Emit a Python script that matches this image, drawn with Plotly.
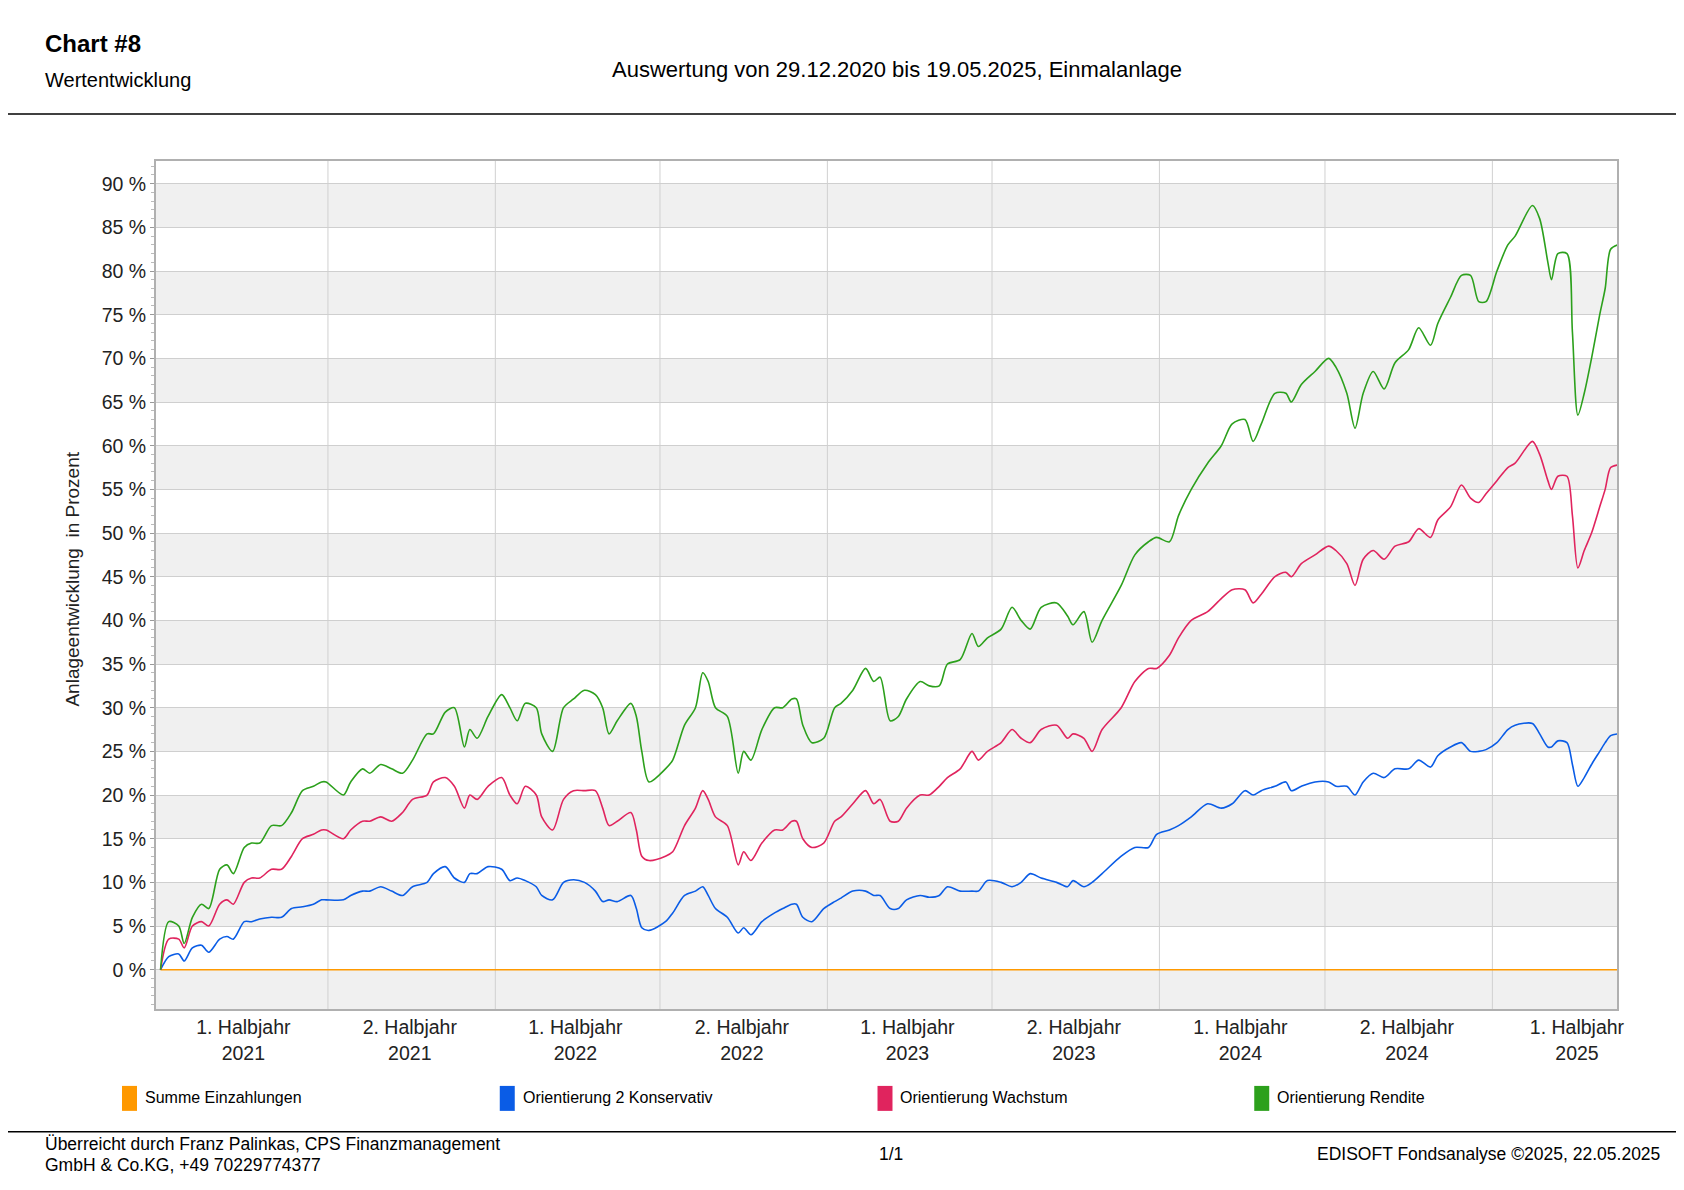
import plotly.graph_objects as go
import pandas as pd

start = pd.Timestamp("2020-12-29")
day_offsets = [0,9,20,26,35,45,53,65,73,80,92,100,109,122,133,144,156,168,177,182,201,209,222,230,242,254,266,277,293,300,313,323,334,340,348,360,375,384,392,401,413,419,431,443,454,466,478,486,493,502,517,523,529,537,555,563,576,588,596,602,610,623,635,641,649,661,675,684,694,699,706,716,729,741,748,761,775,784,791,802,811,820,835,845,856,865,879,892,899,909,924,936,946,956,968,985,997,1003,1015,1024,1035,1056,1071,1086,1095,1109,1119,1133,1151,1166,1178,1192,1201,1210,1225,1237,1243,1254,1269,1284,1292,1304,1313,1322,1333,1345,1357,1372,1383,1396,1404,1418,1430,1440,1449,1457,1469,1481,1489,1508,1516,1525,1529,1536,1546,1552,1558,1565,1573,1582,1588,1594,1602]

rendite = [0,5.5,5,3,6,7.5,7,11.5,12,11,14,14.5,14.5,16.5,16.5,18,20.5,21,21.5,21.5,20,21.5,23,22.5,23.5,23,22.5,24,27,27,29.5,30,25.5,27.5,26.5,29,31.5,30,28.5,30.5,30,27,25,30,31,32,31.5,30,27,28.5,30.5,29,25,21.5,23,24,28,30,34,33,30,29,22.5,25,24,27.5,30,30,31,31,28,26,26.5,30,30.5,32,34.5,33,33.5,28.5,29,31,33,32.5,32.5,35,35.5,38.5,37,38,39,41.5,40,39,41.5,42,40.5,39.5,41,37.5,40,44,47.5,49,49.5,49,52,55,58,60,62.5,63,60.5,62.5,66,66,65,67,68.5,70,69,66,62,66,68.5,66.5,69.5,71,73.5,71.5,74,77,79.5,79.5,76.5,76.5,80,83,84,87.5,86,81,79,82,82,73,63.5,66,70,75,78,82.5,83]

wachstum = [0,3.5,3.5,2.5,5,5.5,5,7.5,8,7.5,10,10.5,10.5,11.5,11.5,13,15,15.5,16,16,15,16,17,17,17.5,17,18,19.5,20,21.5,22,21,18.5,20,19.5,21,22,20,19,21,20,17.5,16,19.5,20.5,20.5,20.5,18.5,16.5,17,18,16,13,12.5,13,13.5,16.5,18.5,20.5,19.5,17.5,16.5,12,13.5,12.5,14.5,16,16,17,17,15,14,14.5,17,17.5,19,20.5,19,19.5,17,17,18.5,20,20,21,22,23,25,24,25,26,27.5,26.5,26,27.5,28,26.5,27,26.5,25,27.5,30,33,34.5,34.5,36,38,40,41,42.5,43.5,43.5,42,43,45,45.5,45,46.5,47.5,48.5,48,46.5,44,47,48,47,48.5,49,50.5,49.5,51.5,53,55.5,54,53.5,54.5,56,57.5,58,60.5,59,56,55,56.5,56.5,52,46,48,50,53,55,57.5,57.8]

konservativ = [0,1.5,1.8,1,2.5,2.8,2,3.5,3.8,3.5,5.5,5.5,5.8,6,6,7,7.2,7.5,8,8,8,8.5,9,9,9.5,9,8.5,9.5,10,11,11.8,10.5,10,11,11,11.8,11.5,10.2,10.5,10.2,9.5,8.5,8,10,10.3,10,9,7.8,8,7.8,8.5,7,4.8,4.5,5.5,6.5,8.5,9,9.5,8.5,7,6,4.2,4.8,4,5.5,6.5,7,7.5,7.5,6,5.5,7,7.8,8.2,9,9,8.5,8.5,7,7,8,8.5,8.3,8.5,9.5,9,9,9,10.2,10,9.5,10,11,10.5,10,9.5,10.2,9.5,10,11,13,14,14,15.5,16,16.5,17.5,19,18.5,19,20.5,20,20.5,21,21.5,20.5,21,21.5,21.5,21,21,20,21.5,22.5,22,23,23,24,23.2,24.5,25.5,26,25,25,25.2,26,27.5,28,28.2,27,25.5,25.5,26.2,26,23.5,21,22,23.5,25,26,26.8,27]

einzahlungen = [0]*len(day_offsets)

dates = [start + pd.Timedelta(days=d) for d in day_offsets]

half_year_bounds = ["2021-07-01","2022-01-01","2022-07-01","2023-01-01","2023-07-01","2024-01-01","2024-07-01","2025-01-01"]
tick_dates = ["2021-03-30","2021-09-29","2022-03-30","2022-09-29","2023-03-30","2023-09-29","2024-03-30","2024-09-29","2025-04-04"]
tick_text = ["1. Halbjahr<br>2021","2. Halbjahr<br>2021","1. Halbjahr<br>2022","2. Halbjahr<br>2022","1. Halbjahr<br>2023","2. Halbjahr<br>2023","1. Halbjahr<br>2024","2. Halbjahr<br>2024","1. Halbjahr<br>2025"]
y_ticks = list(range(0, 95, 5))
y_tick_text = [f"{v} %" for v in y_ticks]
grey_bands = [(-5,0)] + [(v, v+5) for v in range(5, 90, 10)]

series = [
    ("Summe Einzahlungen", einzahlungen, "#ff9900"),
    ("Orientierung 2 Konservativ", konservativ, "#0a5ce6"),
    ("Orientierung Wachstum", wachstum, "#e0245e"),
    ("Orientierung Rendite", rendite, "#2ca01c"),
]

W, H = 1684, 1190
OFF = 8.5
L, R, T, B = 156 - OFF, 1618 - OFF, 161 - OFF, 1010 - OFF
def px(x): return (x - OFF - L) / (R - L)
def py(y): return (B - (y - OFF)) / (B - T)

fig = go.Figure()
for name, vals, col in series:
    fig.add_trace(go.Scatter(x=dates, y=vals, mode="lines", name=name,
                             line=dict(color=col, width=1.6, shape="spline", smoothing=0.8),
                             showlegend=False))

shapes = []
for a, b in grey_bands:
    shapes.append(dict(type="rect", xref="paper", yref="y", x0=0, x1=1, y0=a, y1=b,
                       fillcolor="#f0f0f0", line_width=0, layer="below"))
for d in half_year_bounds:
    shapes.append(dict(type="line", xref="x", yref="paper", x0=d, x1=d, y0=0, y1=1,
                       line=dict(color="#d0d0d0", width=1), layer="below"))
for yy in (114, 1133):
    shapes.append(dict(type="line", xref="paper", yref="paper", x0=(-20 - L) / (R - L), x1=(W + 20 - L) / (R - L),
                       y0=py(yy), y1=py(yy), line=dict(color="black", width=1.5)))

ann = []
font = "Liberation Sans, Arial, sans-serif"
def text(x, y, t, size, xanchor="left", bold=False, **kw):
    ann.append(dict(xref="paper", yref="paper", x=px(x), y=py(y), text=(f"<b>{t}</b>" if bold else t),
                    showarrow=False, xanchor=xanchor, yanchor="middle",
                    font=dict(family=font, size=size, color="black"), **kw))
text(43, 43, "Chart #8", 24, bold=True)
text(43, 80, "Wertentwicklung", 20)
text(898, 69, "Auswertung von 29.12.2020 bis 19.05.2025, Einmalanlage", 22, xanchor="center")
text(43, 1145, "Überreicht durch Franz Palinkas, CPS Finanzmanagement", 17.5)
text(43, 1166, "GmbH &amp; Co.KG, +49 70229774377", 17.5)
text(892, 1155, "1/1", 17.5, xanchor="center")
text(1663, 1155, "EDISOFT Fondsanalyse ©2025, 22.05.2025", 17.5, xanchor="right")
ann.append(dict(xref="paper", yref="paper", x=px(72), y=py(580), text="Anlageentwicklung  in Prozent",
                showarrow=False, textangle=-90, xanchor="center", yanchor="middle",
                font=dict(family=font, size=19, color="#222")))

leg_x = [122, 500, 878, 1255]
for (name, _, col), lx in zip(series, leg_x):
    shapes.append(dict(type="rect", xref="paper", yref="paper", x0=px(lx), x1=px(lx+15),
                       y0=py(1112), y1=py(1087), fillcolor=col, line_width=0))
    text(lx + 21, 1099, name, 16)

fig.update_layout(
    width=W, height=H, margin=dict(l=L, r=W-R, t=T, b=H-B),
    paper_bgcolor="white", plot_bgcolor="white",
    shapes=shapes, annotations=ann,
    xaxis=dict(range=["2020-12-24", "2025-05-18"], tickvals=tick_dates, ticktext=tick_text,
               showgrid=False, ticks="", showline=True, mirror=True, linecolor="#b0b0b0", linewidth=2,
               tickfont=dict(family=font, size=19.5, color="#222"), zeroline=False),
    yaxis=dict(range=[-4.5, 92.6], tickvals=y_ticks, ticktext=y_tick_text, showgrid=True,
               gridcolor="#cfcfcf", gridwidth=1, ticks="outside", ticklen=4, tickcolor="#999",
               minor=dict(dtick=1, ticks="outside", ticklen=3, tickcolor="#bbb"),
               showline=True, mirror=True, linecolor="#b0b0b0", linewidth=2, zeroline=False,
               tickfont=dict(family=font, size=19.5, color="#222")),
)
fig.write_html("out.html")
